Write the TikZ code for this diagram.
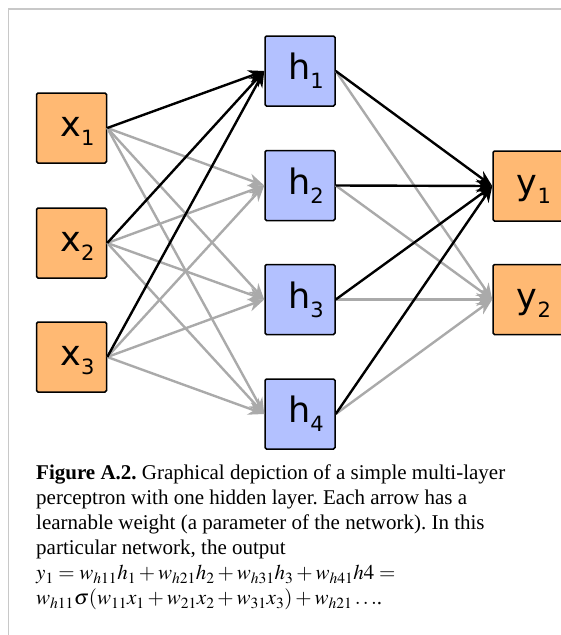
\documentclass[tikz,border=0pt]{standalone}
\usepackage{mathptmx}
\usepackage{fontspec}
\setmainfont{Liberation Serif}
\newfontfamily\boxfont{DejaVu Sans}
\usetikzlibrary{arrows.meta}

\definecolor{unitorange}{RGB}{255,185,115}
\definecolor{unitblue}{RGB}{179,193,255}
\definecolor{wiregray}{RGB}{170,170,170}
\definecolor{framegray}{RGB}{200,200,200}

\newcommand{\unitname}[2]{\hspace*{12pt}#1\raisebox{-9pt}{\fontsize{21}{21}\selectfont #2}\vphantom{h}}

\begin{document}
\frenchspacing
\begin{tikzpicture}[x=1pt,y=1pt]
\tikzstyle{unit}=[draw=black, line width=1.5pt, rounded corners=1.5pt, minimum size=70pt, inner sep=0pt, font=\boxfont\fontsize{35}{35}\selectfont]
\tikzstyle{wire}=[line width=2.4pt, -{Stealth[length=16pt,width=13pt]}]
\useasboundingbox (0,0) rectangle (561,-635);
\draw [framegray, line width=1.5pt] (8.5,-635) -- (8.5,-9) -- (561,-9);
% input layer
\node [unit, fill=unitorange] (x1) at (71.5,-128) {\unitname{x}{1}};
\node [unit, fill=unitorange] (x2) at (71.5,-243) {\unitname{x}{2}};
\node [unit, fill=unitorange] (x3) at (71.5,-357) {\unitname{x}{3}};
% hidden layer
\node [unit, fill=unitblue] (h1) at (300,-71) {\unitname{h}{1}};
\node [unit, fill=unitblue] (h2) at (300,-185.5) {\unitname{h}{2}};
\node [unit, fill=unitblue] (h3) at (300,-299.5) {\unitname{h}{3}};
\node [unit, fill=unitblue] (h4) at (300,-414) {\unitname{h}{4}};
% output layer
\node [unit, fill=unitorange] (y1) at (528,-186) {\unitname{y}{1}};
\node [unit, fill=unitorange] (y2) at (528,-299.5) {\unitname{y}{2}};
% gray weights
\draw [wire, wiregray] (x1.east) -- (h2.west);
\draw [wire, wiregray] (x1.east) -- (h3.west);
\draw [wire, wiregray] (x1.east) -- (h4.west);
\draw [wire, wiregray] (x2.east) -- (h2.west);
\draw [wire, wiregray] (x2.east) -- (h3.west);
\draw [wire, wiregray] (x2.east) -- (h4.west);
\draw [wire, wiregray] (x3.east) -- (h2.west);
\draw [wire, wiregray] (x3.east) -- (h3.west);
\draw [wire, wiregray] (x3.east) -- (h4.west);
\draw [wire, wiregray] (h1.east) -- (y2.west);
\draw [wire, wiregray] (h2.east) -- (y2.west);
\draw [wire, wiregray] (h3.east) -- (y2.west);
\draw [wire, wiregray] (h4.east) -- (y2.west);
% black weights
\draw [wire, black] (x1.east) -- (h1.west);
\draw [wire, black] (x2.east) -- (h1.west);
\draw [wire, black] (x3.east) -- (h1.west);
\draw [wire, black] (h1.east) -- (y1.west);
\draw [wire, black] (h2.east) -- (y1.west);
\draw [wire, black] (h3.east) -- (y1.west);
\draw [wire, black] (h4.east) -- (y1.west);
% caption
\node [anchor=north west, align=left, inner sep=0pt, font=\fontsize{21}{25}\selectfont] (caption) at (36,-465) {\textbf{Figure A.2.} Graphical depiction of a simple multi-layer\\
perceptron with one hidden layer. Each arrow has a\\
learnable weight (a parameter of the network). In this\\
particular network, the output\\
$y_1=w_{h11}h_1+w_{h21}h_2+w_{h31}h_3+w_{h41}h4=$\\
$w_{h11}\sigma(w_{11}x_1+w_{21}x_2+w_{31}x_3)+w_{h21}\ldots$.};
\end{tikzpicture}
\end{document}
